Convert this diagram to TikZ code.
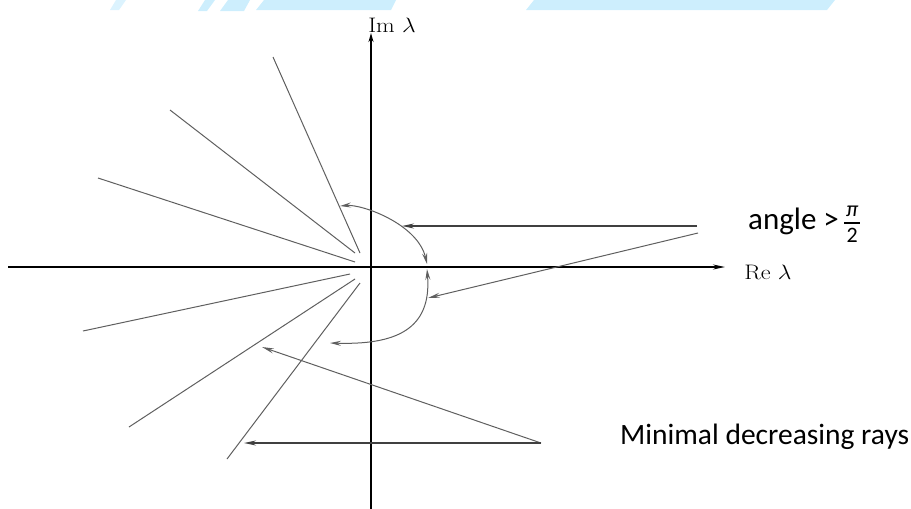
\documentclass[tikz,border=0pt]{standalone}
\usepackage{amsmath}
\usepackage{fontspec}
\newfontfamily\calibri{Carlito}
\usetikzlibrary{arrows.meta}
\definecolor{wmblue}{RGB}{205,238,253}
\definecolor{raygray}{RGB}{95,95,95}

\begin{document}
\begin{tikzpicture}[
  x=1pt, y=-1pt,
  >=Latex,
  axis/.style={draw=black, line width=1.6pt},
  ray/.style={draw=raygray, line width=1pt},
  arr/.style={-{Stealth[length=12pt,width=5pt,inset=4pt]}, draw=raygray, line width=1pt},
  darr/.style={arr, draw=black!75, line width=1.6pt},
  twoway/.style={{Stealth[length=11pt,width=5pt,inset=4pt]}-{Stealth[length=11pt,width=5pt,inset=4pt]}, draw=raygray, line width=1pt},
  axlabel/.style={font=\fontsize{21}{24}\selectfont, inner sep=0pt},
  note/.style={font=\calibri\fontsize{29.5}{34}\selectfont, inner sep=0pt, anchor=base west}
]
\useasboundingbox (0,0) rectangle (911,509);

% watermark strip along the top edge
\fill[wmblue!70] (116,0) -- (126,0) -- (119,10) -- (110,10) -- cycle;
\fill[wmblue] (205,0) -- (215,0) -- (207,11) -- (198,11) -- cycle;
\fill[wmblue] (228,0) -- (250,0) -- (244,11) -- (220,11) -- cycle;
\fill[wmblue] (264,0) -- (396,0) -- (391,10) -- (256,10) -- cycle;
\fill[wmblue] (534,0) -- (835,0) -- (827,10) -- (526,10) -- cycle;

% axes
\coordinate (xl) at (8,267);
\coordinate (xr) at (725,267);
\coordinate (yb) at (371,509);
\coordinate (yt) at (371,33);
\draw[axis, -{Stealth[length=12pt,width=5pt,inset=4pt]}] (xl) -- (xr);
\draw[axis, line width=2.4pt, -{Stealth[length=9pt,width=5pt]}] (yb) -- (yt);
\node[axlabel] (im) at (392,25) {\scalebox{1.15}[1]{Im\ $\lambda$}};
\node[axlabel] (re) at (768,272) {\scalebox{1.15}[1]{Re\ $\lambda$}};

% rays
\coordinate (r1a) at (360,253); \coordinate (r1b) at (273,57);
\coordinate (r2a) at (355,253); \coordinate (r2b) at (170,110);
\coordinate (r3a) at (355,262); \coordinate (r3b) at (98,178);
\coordinate (r4a) at (350,274); \coordinate (r4b) at (83,331);
\coordinate (r5a) at (355,279); \coordinate (r5b) at (129,427);
\coordinate (r6a) at (360,283); \coordinate (r6b) at (227,459);
\draw[ray] (r1a) -- (r1b);
\draw[ray] (r2a) -- (r2b);
\draw[ray] (r3a) -- (r3b);
\draw[ray] (r4a) -- (r4b);
\draw[ray] (r5a) -- (r5b);
\draw[ray] (r6a) -- (r6b);

% turning arcs
\coordinate (up) at (340,206);
\coordinate (ax1) at (427,264);
\coordinate (ax2) at (427,269);
\coordinate (lo) at (330,343);
\draw[twoway] (up) .. controls (362,204) and (418,224) .. (ax1);
\draw[twoway] (ax2) .. controls (432,330) and (395,345) .. (lo);

% pointers
\coordinate (p1) at (697,226); \coordinate (t1) at (402,226);
\coordinate (p2) at (698,233); \coordinate (t2) at (428,298);
\coordinate (p3) at (541,443); \coordinate (t3) at (262,347);
\coordinate (t4) at (244,443);
\draw[darr] (p1) -- (t1);
\draw[arr] (p2) -- (t2);
\draw[arr] (p3) -- (t3);
\draw[darr] (p3) -- (t4);

\node[note, font=\calibri\fontsize{31}{34}\selectfont] (angle) at (748,229) {angle >\kern4pt$\genfrac{}{}{2.4pt}{}{\kern2pt\text{\fontsize{22}{22}\selectfont\itshape π}\kern2pt\rule[-3pt]{0pt}{3pt}}{\rule{0pt}{16pt}\kern2pt\text{\fontsize{22}{22}\selectfont 2}\kern2pt}$};
\node[note] (minray) at (620,444) {Minimal decreasing rays};
\end{tikzpicture}
\end{document}
